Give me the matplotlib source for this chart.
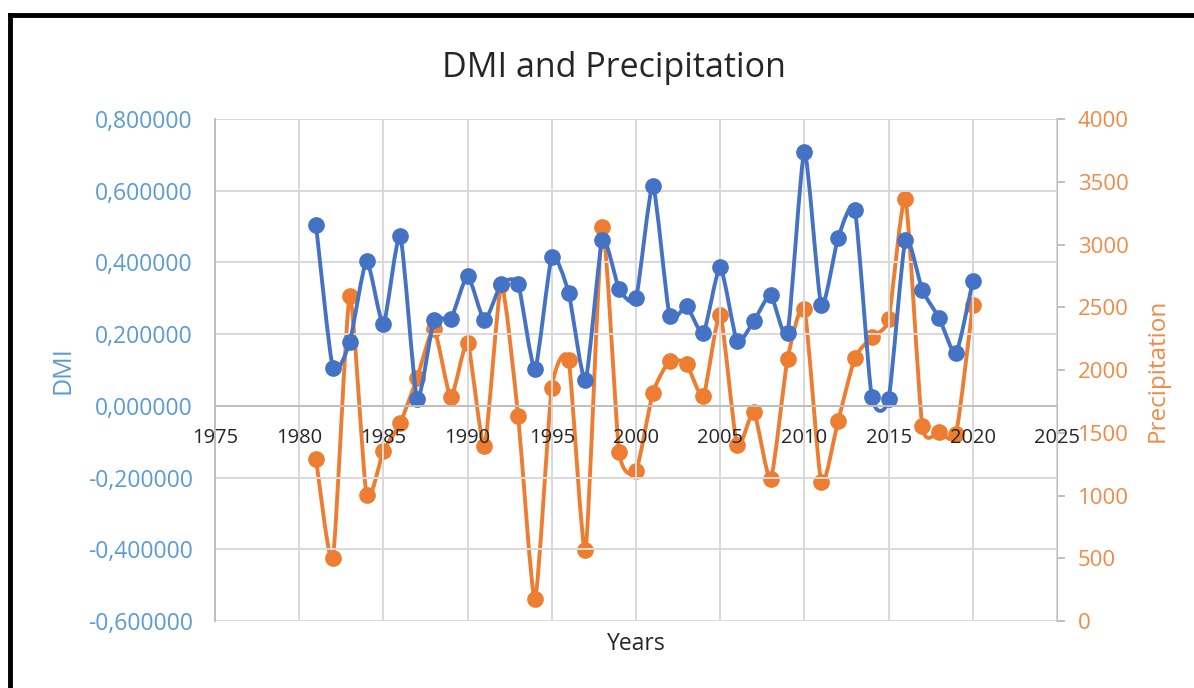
import numpy as np
import matplotlib
matplotlib.use("Agg")
import matplotlib.pyplot as plt
from matplotlib.path import Path
from matplotlib.patches import PathPatch
from matplotlib.lines import Line2D
from matplotlib.ticker import FuncFormatter, MultipleLocator

plt.rcParams['font.family'] = ['Open Sans', 'DejaVu Sans']

# data
years = list(range(1981, 2021))
dmi = [0.504, 0.105, 0.178, 0.404, 0.228, 0.474, 0.019, 0.239, 0.242, 0.362,
       0.239, 0.340, 0.340, 0.103, 0.415, 0.315, 0.072, 0.463, 0.326, 0.300,
       0.613, 0.250, 0.278, 0.203, 0.387, 0.181, 0.237, 0.309, 0.203, 0.708,
       0.281, 0.468, 0.546, 0.025, 0.019, 0.463, 0.323, 0.245, 0.147, 0.348]
precip = [1290, 502, 2590, 1004, 1355, 1578, 1936, 2327, 1785, 2215,
          1394, 2677, 1633, 175, 1857, 2080, 566, 3139, 1347, 1195,
          1817, 2072, 2048, 1793, 2438, 1402, 1665, 1131, 2088, 2486,
          1108, 1594, 2096, 2263, 2406, 3363, 1554, 1506, 1490, 2518]

BLUE = '#4472C4'
ORANGE = '#ED7D31'
BLUE_TXT = '#5B9BD5'
ORANGE_TXT = '#F08A46'
TXT = '#262626'
GRID = '#D9D9D9'
AXIS = '#BFBFBF'


def smooth_path(x, y, k=10):
    # Excel style smoothed line: gentle Catmull-Rom segments as cubic Beziers
    p = np.column_stack([x, y]).astype(float)
    n = len(p)
    verts = [p[0]]
    codes = [Path.MOVETO]
    for i in range(n - 1):
        p0 = p[i - 1] if i > 0 else p[i]
        p3 = p[i + 2] if i + 2 < n else p[i + 1]
        c1 = p[i] + (p[i + 1] - p0) / k
        c2 = p[i + 1] - (p3 - p[i]) / k
        verts += [c1, c2, p[i + 1]]
        codes += [Path.CURVE4] * 3
    return Path(verts, codes)


fig = plt.figure(figsize=(11.94, 6.88), dpi=100)
ax = fig.add_axes([215 / 1194, 1 - 621 / 688, (1057 - 215) / 1194, (621 - 119) / 688])
ax2 = ax.twinx()

ax.set_xlim(1975, 2025)
ax.set_ylim(-0.6, 0.8)
ax2.set_ylim(0, 4000)

ax.xaxis.set_major_locator(MultipleLocator(5))
ax.yaxis.set_major_locator(MultipleLocator(0.2))
ax2.yaxis.set_major_locator(MultipleLocator(500))
ax.yaxis.set_major_formatter(FuncFormatter(lambda v, pos: f"{v:.6f}".replace('.', ',')))

ax.grid(True, color=GRID, linewidth=1.4)
ax.set_axisbelow(True)

for s in ['top', 'right']:
    ax.spines[s].set_visible(False)
for s in ['top', 'left', 'bottom']:
    ax2.spines[s].set_visible(False)
ax.spines['bottom'].set_position(('data', 0))
ax.spines['bottom'].set_color(AXIS)
ax.spines['bottom'].set_linewidth(1.4)
ax.spines['left'].set_color(AXIS)
ax.spines['left'].set_linewidth(1.4)
ax2.spines['right'].set_color(AXIS)
ax2.spines['right'].set_linewidth(1.4)

ax.tick_params(axis='x', length=0, pad=16, labelsize=14.5, labelcolor=TXT)
ax.tick_params(axis='y', length=0, pad=16, labelsize=16.5, labelcolor=BLUE_TXT)
ax2.tick_params(axis='y', length=6, width=1.4, color=AXIS, pad=9,
                labelsize=16, labelcolor=ORANGE_TXT)

# orange series on the secondary axis, blue drawn on top
ax.set_zorder(ax2.get_zorder() + 1)
ax.patch.set_visible(False)

ax2.add_patch(PathPatch(smooth_path(years, precip), fill=False, edgecolor=ORANGE,
                        linewidth=2.8, capstyle='round', joinstyle='round'))
ax2.plot(years, precip, 'o', color=ORANGE, markersize=11, linestyle='none')

ax.add_patch(PathPatch(smooth_path(years, dmi), fill=False, edgecolor=BLUE,
                       linewidth=2.8, capstyle='round', joinstyle='round'))
ax.plot(years, dmi, 'o', color=BLUE, markersize=11, linestyle='none')

ax.set_ylabel('DMI', fontsize=18, color=BLUE_TXT)
ax.yaxis.set_label_coords(-0.166, 0.5)
ax2.set_ylabel('Precipitation', fontsize=17.5, color=ORANGE_TXT, labelpad=12)
ax.set_xlabel('Years', fontsize=16.5, color=TXT)
ax.xaxis.set_label_coords(0.5, -0.022)
ax.set_title('DMI and Precipitation', fontsize=24.5, color=TXT, pad=30, x=0.474)

# black frame around the chart (only top and left visible in the crop)
fig.add_artist(Line2D([10 / 1194, 10 / 1194], [0, 1 - 15 / 688], color='black',
                      linewidth=3.5, transform=fig.transFigure))
fig.add_artist(Line2D([10 / 1194, 1], [1 - 15 / 688, 1 - 15 / 688], color='black',
                      linewidth=3.5, transform=fig.transFigure))

fig.savefig('out.png', dpi=100)
